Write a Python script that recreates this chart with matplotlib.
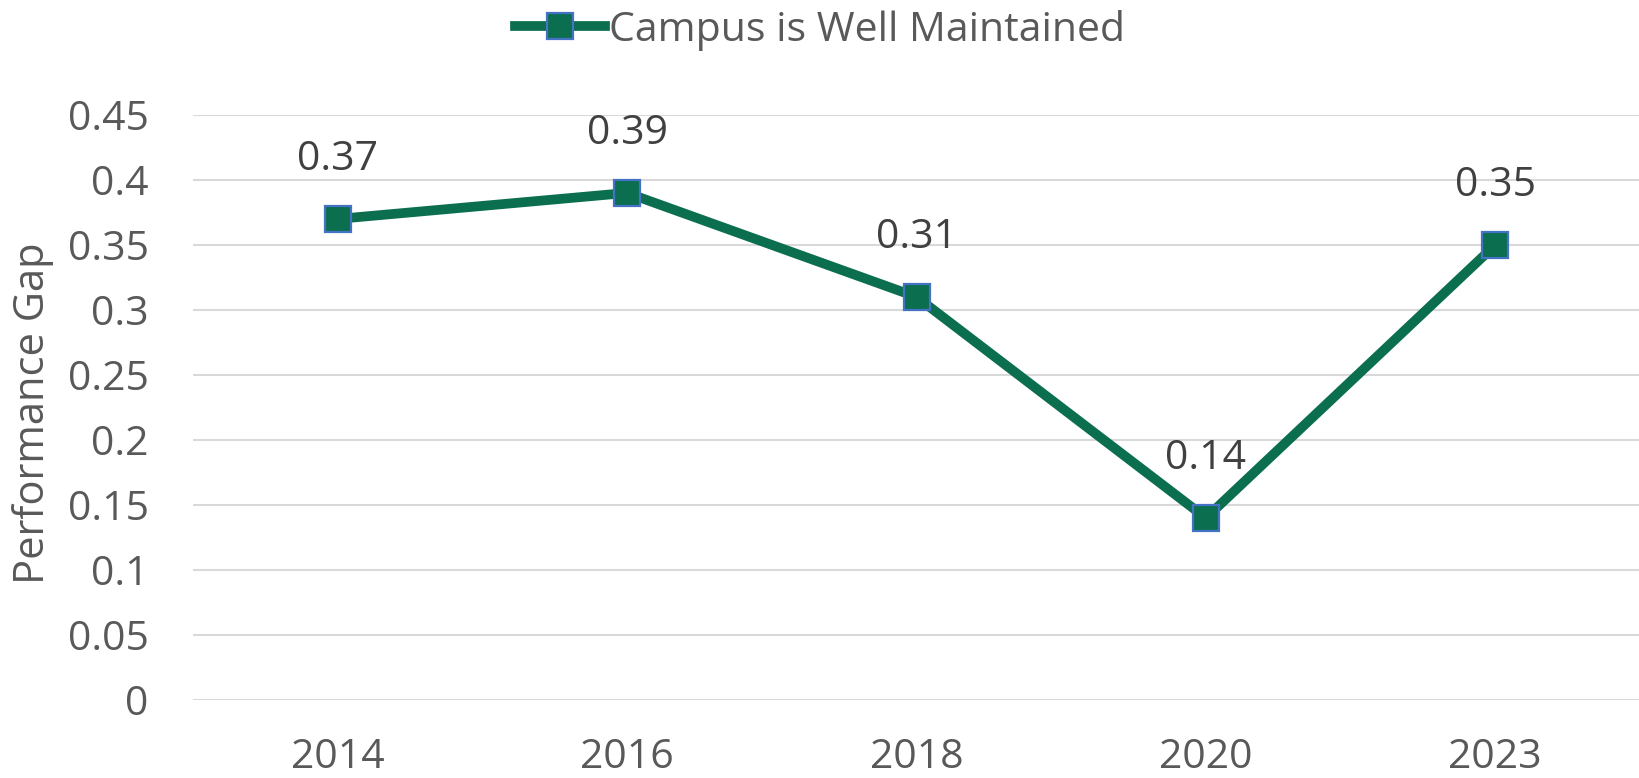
import matplotlib.pyplot as plt

# Data
years = ['2014', '2016', '2018', '2020', '2023']
gap = [0.37, 0.39, 0.31, 0.14, 0.35]
yticks = [0, 0.05, 0.1, 0.15, 0.2, 0.25, 0.3, 0.35, 0.4, 0.45]
ytick_labels = ['0', '0.05', '0.1', '0.15', '0.2', '0.25', '0.3', '0.35', '0.4', '0.45']

plt.rcParams['font.family'] = ['Open Sans', 'DejaVu Sans']
txt = '#595959'
green = '#0b6e4f'
fs = 29.5

fig = plt.figure(figsize=(16.4, 7.78), dpi=100)
ax = fig.add_axes([0.1177, 0.1003, 0.8823, 0.752])

x = range(len(years))
ax.plot(x, gap, color=green, lw=7, marker='s', markersize=19,
        markerfacecolor=green, markeredgecolor='#4472c4', markeredgewidth=1.6,
        label='Campus is Well Maintained', zorder=3)

for i, v in enumerate(gap):
    ax.annotate(str(v), (i, v), xytext=(0, 28), textcoords='offset points',
                ha='center', va='bottom', fontsize=fs, color='#404040')

ax.set_xlim(-0.5, len(years) - 0.5)
ax.set_ylim(0, 0.45)
ax.set_xticks(list(x))
ax.set_xticklabels(years)
ax.set_yticks(yticks)
ax.set_yticklabels(ytick_labels)
ax.tick_params(axis='both', length=0, labelsize=fs, labelcolor=txt)
ax.tick_params(axis='x', pad=27)
ax.tick_params(axis='y', pad=32)
ax.grid(axis='y', color='#d9d9d9', lw=1.5)
ax.set_axisbelow(True)
for s in ax.spines.values():
    s.set_visible(False)
ax.set_ylabel('Performance Gap', fontsize=30, color=txt)
ax.yaxis.set_label_coords(-0.096, 0.49)

fig.legend(loc='upper center', bbox_to_anchor=(0.5, 1.035), frameon=False,
           fontsize=fs, labelcolor=txt, handlelength=2.2, handletextpad=0.1)

fig.savefig('out.png', dpi=100, facecolor='white')
